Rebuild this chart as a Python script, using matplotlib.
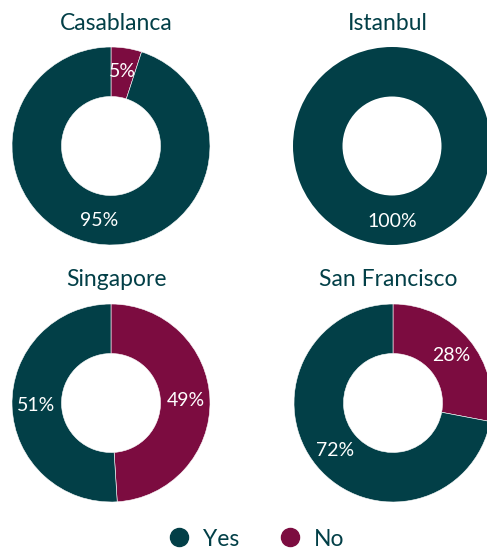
import matplotlib
matplotlib.use('Agg')
import matplotlib.pyplot as plt
from matplotlib.lines import Line2D

cities = ['Casablanca', 'Istanbul', 'Singapore', 'San Francisco']
yes_pct = [95, 100, 51, 72]
no_pct = [5, 0, 49, 28]
series = ['Yes', 'No']

TEAL = '#023f47'
MAROON = '#7c0c40'

plt.rcParams['font.family'] = ['Lato', 'DejaVu Sans']

W, H = 487, 549
fig = plt.figure(figsize=(W / 100, H / 100), dpi=100)

# pixel centres of each donut, outer radius in px
centres = [(111, 146), (392, 146), (111, 403), (393, 403)]
R = 99
title_x = [116, 388, 116, 388]

for k, city in enumerate(cities):
    cx, cy = centres[k]
    ax = fig.add_axes([(cx - R) / W, (H - cy - R) / H, 2 * R / W, 2 * R / H])
    vals = [no_pct[k], yes_pct[k]]
    cols = [MAROON, TEAL]
    keep = [i for i, v in enumerate(vals) if v > 0]
    vals = [vals[i] for i in keep]
    cols = [cols[i] for i in keep]
    wedges, texts, autotexts = ax.pie(
        vals, colors=cols, startangle=90, counterclock=False, radius=1,
        wedgeprops=dict(width=0.5, edgecolor='white', linewidth=0.4 if len(vals) > 1 else 0),
        autopct=lambda p: f'{p:.0f}%', pctdistance=0.76,
        textprops=dict(color='white', fontsize=14))
    ax.set_xlim(-1, 1)
    ax.set_ylim(-1, 1)
    ax.set_aspect('equal')
    ax.axis('off')
    fig.text(title_x[k] / W, 1 - (cy - R - 24) / H, city, ha='center', va='center',
             fontsize=16.5, color=TEAL)

handles = [Line2D([], [], marker='o', linestyle='none', markersize=13, color=c)
           for c in (TEAL, MAROON)]
fig.legend(handles, series, loc='center', bbox_to_anchor=(250 / W, 1 - 539 / H),
           ncol=2, frameon=False, handletextpad=0.05, columnspacing=1.2,
           labelcolor=TEAL, prop=dict(size=16.5))

fig.savefig('out.png', dpi=100)
